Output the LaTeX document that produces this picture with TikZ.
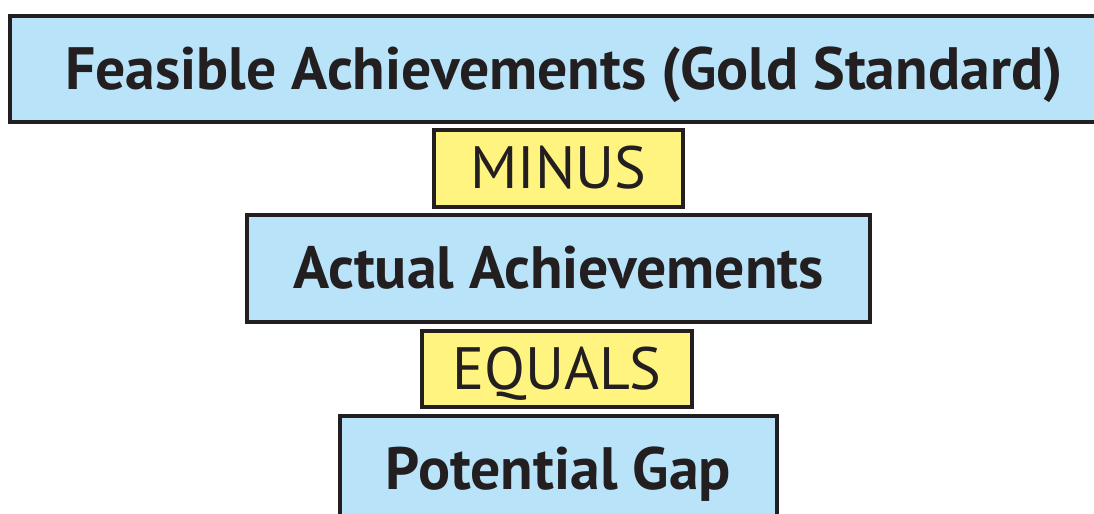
\documentclass[tikz,border=0pt]{standalone}
\usepackage{fontspec}
\setmainfont{PT Sans}
\usetikzlibrary{positioning}

\definecolor{gapblue}{HTML}{B9E3F8}
\definecolor{opyellow}{HTML}{FFF47F}
\definecolor{boxline}{HTML}{231F20}

\begin{document}
\begin{tikzpicture}[
    bluebox/.style={draw=boxline, line width=1pt, fill=gapblue, inner sep=0pt,
        text=boxline, text height=0.41cm, text depth=0pt,
        font=\fontsize{17}{20}\selectfont\bfseries},
    opbox/.style={draw=boxline, line width=1pt, fill=opyellow, inner sep=0pt,
        text=boxline, text height=0.41cm, text depth=0pt,
        font=\fontsize{17}{20}\selectfont}]
    % Page frame
    \useasboundingbox (0,0) rectangle (10.94,5.14);
    \clip (0,0) rectangle (10.94,5.14);

    % Gold standard (runs off the right edge)
    \node[bluebox, minimum width=11.08cm, minimum height=1.06cm] (feasible) at (5.64,4.45)
        {Feasible Achievements (Gold Standard)};

    % Minus
    \node[opbox, minimum width=2.49cm, minimum height=0.77cm] (minus) at (5.585,3.455) {MINUS};

    % Actual achievements
    \node[bluebox, minimum width=6.23cm, minimum height=1.07cm] (actual) at (5.585,2.455)
        {Actual Achievements};

    % Equals
    \node[opbox, minimum width=2.70cm, minimum height=0.76cm] (equals) at (5.57,1.45) {EQUALS};

    % Potential gap (runs off the bottom edge)
    \node[bluebox, minimum width=4.37cm, minimum height=1.07cm] (gap) at (5.585,0.445)
        {Potential Gap};
\end{tikzpicture}
\end{document}
